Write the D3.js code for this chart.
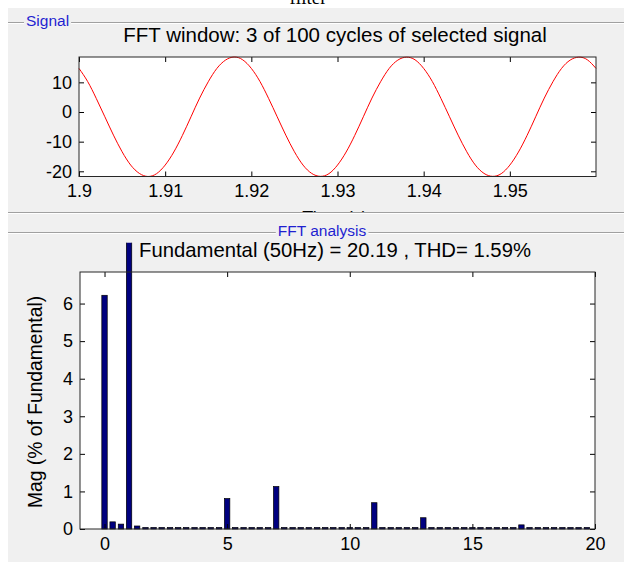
<!DOCTYPE html>
<html>
<head>
<meta charset="utf-8">
<script src="https://cdn.jsdelivr.net/npm/d3@7"></script>
<style>
html, body { margin: 0; padding: 0; background: #fff; }
svg { display: block; font-family: "Liberation Sans", Arial, sans-serif; }
</style>
</head>
<body>
<svg id="chart" width="624" height="562"></svg>
<script>
const sigTime = [1.900, 1.901, 1.902, 1.903, 1.904, 1.905, 1.906, 1.907, 1.908, 1.909,
                 1.910, 1.911, 1.912, 1.913, 1.914, 1.915, 1.916, 1.917, 1.918, 1.919,
                 1.920, 1.921, 1.922, 1.923, 1.924, 1.925, 1.926, 1.927, 1.928, 1.929,
                 1.930, 1.931, 1.932, 1.933, 1.934, 1.935, 1.936, 1.937, 1.938, 1.939,
                 1.940, 1.941, 1.942, 1.943, 1.944, 1.945, 1.946, 1.947, 1.948, 1.949,
                 1.950, 1.951, 1.952, 1.953, 1.954, 1.955, 1.956, 1.957, 1.958, 1.959, 1.960];
const sigValue = [14.70, 10.30, 4.60, -1.60, -7.80, -13.40, -17.90, -20.70, -21.75, -20.80,
                  -17.90, -13.50, -7.90, -1.60, 4.70, 10.20, 14.70, 17.50, 18.55, 17.60,
                  14.70, 10.30, 4.60, -1.60, -7.80, -13.40, -17.90, -20.70, -21.70, -20.80,
                  -17.90, -13.50, -7.90, -1.60, 4.70, 10.20, 14.70, 17.50, 18.50, 17.60,
                  14.70, 10.30, 4.60, -1.60, -7.80, -13.40, -17.90, -20.70, -21.70, -20.80,
                  -17.90, -13.50, -7.90, -1.60, 4.70, 10.20, 14.70, 17.50, 18.50, 17.60, 14.70];
const sigTicksX = [1.9, 1.91, 1.92, 1.93, 1.94, 1.95];
const sigTicksY = [-20, -10, 0, 10];

// FFT bins (harmonic order) and magnitude in % of fundamental
const fftOrder = [0, 0.33, 0.67, 1, 1.33, 1.67, 2, 2.33, 2.67, 3, 3.33, 3.67, 4, 4.33, 4.67,
                  5, 5.33, 5.67, 6, 6.33, 6.67, 7, 7.33, 7.67, 8, 8.33, 8.67, 9, 9.33, 9.67,
                  10, 10.33, 10.67, 11, 11.33, 11.67, 12, 12.33, 12.67, 13, 13.33, 13.67, 14, 14.33, 14.67,
                  15, 15.33, 15.67, 16, 16.33, 16.67, 17, 17.33, 17.67, 18, 18.33, 18.67, 19, 19.33, 19.67];
const fftMag = [6.22, 0.19, 0.13, 100, 0.08, 0.04, 0.04, 0.04, 0.04, 0.04, 0.04, 0.04, 0.04, 0.04, 0.04,
                0.81, 0.04, 0.04, 0.04, 0.04, 0.04, 1.13, 0.04, 0.04, 0.04, 0.04, 0.04, 0.04, 0.04, 0.04,
                0.04, 0.04, 0.04, 0.70, 0.04, 0.04, 0.04, 0.04, 0.04, 0.30, 0.04, 0.04, 0.04, 0.04, 0.04,
                0.04, 0.04, 0.04, 0.04, 0.04, 0.04, 0.11, 0.04, 0.04, 0.04, 0.04, 0.04, 0.04, 0.04, 0.04];
const fftTicksX = [0, 5, 10, 15, 20];
const fftTicksY = [0, 1, 2, 3, 4, 5, 6];

const W = 624, H = 562;
const PANEL_BG = '#f0f0f0';
const BAR_FILL = '#00007f';

const svg = d3.select('#chart');

// page background and the cut-off caption above the figure
svg.append('rect').attr('width', W).attr('height', H).attr('fill', '#fff');
svg.append('text')
    .attr('x', 308).attr('y', 4).attr('text-anchor', 'middle')
    .attr('font-family', '"Liberation Serif", "Times New Roman", serif')
    .attr('font-size', 19).text('filter');

// figure area
svg.append('rect').attr('x', 8).attr('y', 8).attr('width', W - 8).attr('height', H - 8).attr('fill', PANEL_BG);

const defs = svg.append('defs');
defs.append('clipPath').attr('id', 'clipSignal')
    .append('rect').attr('x', 8).attr('y', 23).attr('width', W - 8).attr('height', 189);
defs.append('clipPath').attr('id', 'clipFft')
    .append('rect').attr('x', 8).attr('y', 242.7).attr('width', W - 8).attr('height', H - 242.7);

/** etched panel border line */
function etched(x1, x2, y) {
    svg.append('line').attr('x1', x1).attr('x2', x2).attr('y1', y + 0.5).attr('y2', y + 0.5)
        .attr('stroke', '#a0a0a0');
    svg.append('line').attr('x1', x1).attr('x2', x2).attr('y1', y + 1.5).attr('y2', y + 1.5)
        .attr('stroke', '#ffffff');
}

/** panel title sitting on the border line */
function panelTitle(text, x, y, anchor) {
    const g = svg.append('g');
    const bg = g.append('rect').attr('fill', PANEL_BG);
    const t = g.append('text')
        .attr('x', x).attr('y', y).attr('text-anchor', anchor)
        .attr('font-size', 15.5).attr('fill', '#1f1fd0').text(text);
    const bb = t.node().getBBox();
    bg.attr('x', bb.x - 2).attr('y', bb.y).attr('width', bb.width + 4).attr('height', bb.height);
}

/** boxed axes with inward ticks on all four sides */
function boxedAxes(g, x, y, xTicks, yTicks) {
    const [x0, x1] = x.range();
    const [y0, y1] = y.range();
    const tick = 5;
    const style = sel => {
        sel.select('.domain').remove();
        sel.selectAll('line').attr('stroke', '#000');
        sel.selectAll('text').attr('fill', '#000').attr('font-size', 18);
    };
    g.append('g').attr('transform', `translate(0,${y0})`)
        .call(d3.axisBottom(x).tickValues(xTicks).tickSizeInner(-tick).tickSizeOuter(0)
            .tickPadding(8).tickFormat(d => String(d)))
        .call(style);
    g.append('g').attr('transform', `translate(0,${y1})`)
        .call(d3.axisTop(x).tickValues(xTicks).tickSizeInner(-tick).tickSizeOuter(0).tickFormat(''))
        .call(style);
    g.append('g').attr('transform', `translate(${x0},0)`)
        .call(d3.axisLeft(y).tickValues(yTicks).tickSizeInner(-tick).tickSizeOuter(0)
            .tickPadding(7).tickFormat(d => String(d)))
        .call(style);
    g.append('g').attr('transform', `translate(${x1},0)`)
        .call(d3.axisRight(y).tickValues(yTicks).tickSizeInner(-tick).tickSizeOuter(0).tickFormat(''))
        .call(style);
    g.append('rect')
        .attr('x', x0).attr('y', y1).attr('width', x1 - x0).attr('height', y0 - y1)
        .attr('fill', 'none').attr('stroke', '#262626').attr('stroke-width', 1);
}

// ---------- Signal panel ----------
etched(8, W, 22);
etched(8, W, 212);
panelTitle('Signal', 26, 26, 'start');

const gSig = svg.append('g').attr('clip-path', 'url(#clipSignal)');
const xSig = d3.scaleLinear().domain([1.9, 1.96]).range([79, 596]);
const ySig = d3.scaleLinear().domain(d3.extent(sigValue)).range([176.5, 57]);

gSig.append('rect')
    .attr('x', 79).attr('y', 57).attr('width', 596 - 79).attr('height', 176.5 - 57)
    .attr('fill', '#fff');
gSig.append('path')
    .datum(sigValue)
    .attr('fill', 'none').attr('stroke', '#ff0000').attr('stroke-width', 1)
    .attr('d', d3.line()
        .x((d, i) => xSig(sigTime[i]))
        .y(d => ySig(d))
        .curve(d3.curveNatural));
boxedAxes(gSig, xSig, ySig, sigTicksX, sigTicksY);

gSig.append('text')
    .attr('x', 335).attr('y', 42).attr('text-anchor', 'middle')
    .attr('font-size', 20.5).attr('fill', '#000')
    .text('FFT window: 3 of 100 cycles of selected signal');
// x label, mostly hidden under the panel border
gSig.append('text')
    .attr('x', 335).attr('y', 224).attr('text-anchor', 'middle')
    .attr('font-size', 18).attr('fill', '#000')
    .text('Time (s)');

// ---------- FFT panel ----------
etched(8, W, 232);
panelTitle('FFT analysis', 322, 236, 'middle');

const gFft = svg.append('g');
const xFft = d3.scaleLinear().domain([-1, 20]).range([80, 595]);
const yFft = d3.scaleLinear().domain([0, 6.84]).range([529, 272]);

gFft.append('rect')
    .attr('x', 80).attr('y', 272).attr('width', 595 - 80).attr('height', 529 - 272)
    .attr('fill', '#fff');

const barW = xFft(0.22) - xFft(0);
gFft.append('g').attr('clip-path', 'url(#clipFft)')
    .selectAll('rect')
    .data(fftMag)
    .join('rect')
    .attr('x', (d, i) => xFft(fftOrder[i]) - barW / 2)
    .attr('y', d => yFft(d))
    .attr('width', barW)
    .attr('height', d => yFft(0) - yFft(d))
    .attr('fill', BAR_FILL)
    .attr('stroke', '#000').attr('stroke-width', 0.7);

boxedAxes(gFft, xFft, yFft, fftTicksX, fftTicksY);

gFft.append('text')
    .attr('x', 335).attr('y', 256.5).attr('text-anchor', 'middle')
    .attr('font-size', 20.3).attr('fill', '#000')
    .text('Fundamental (50Hz) = 20.19 , THD= 1.59%');
gFft.append('text')
    .attr('transform', 'translate(42,402) rotate(-90)')
    .attr('text-anchor', 'middle')
    .attr('font-size', 19.3).attr('fill', '#000')
    .text('Mag (% of Fundamental)');
</script>
</body>
</html>
